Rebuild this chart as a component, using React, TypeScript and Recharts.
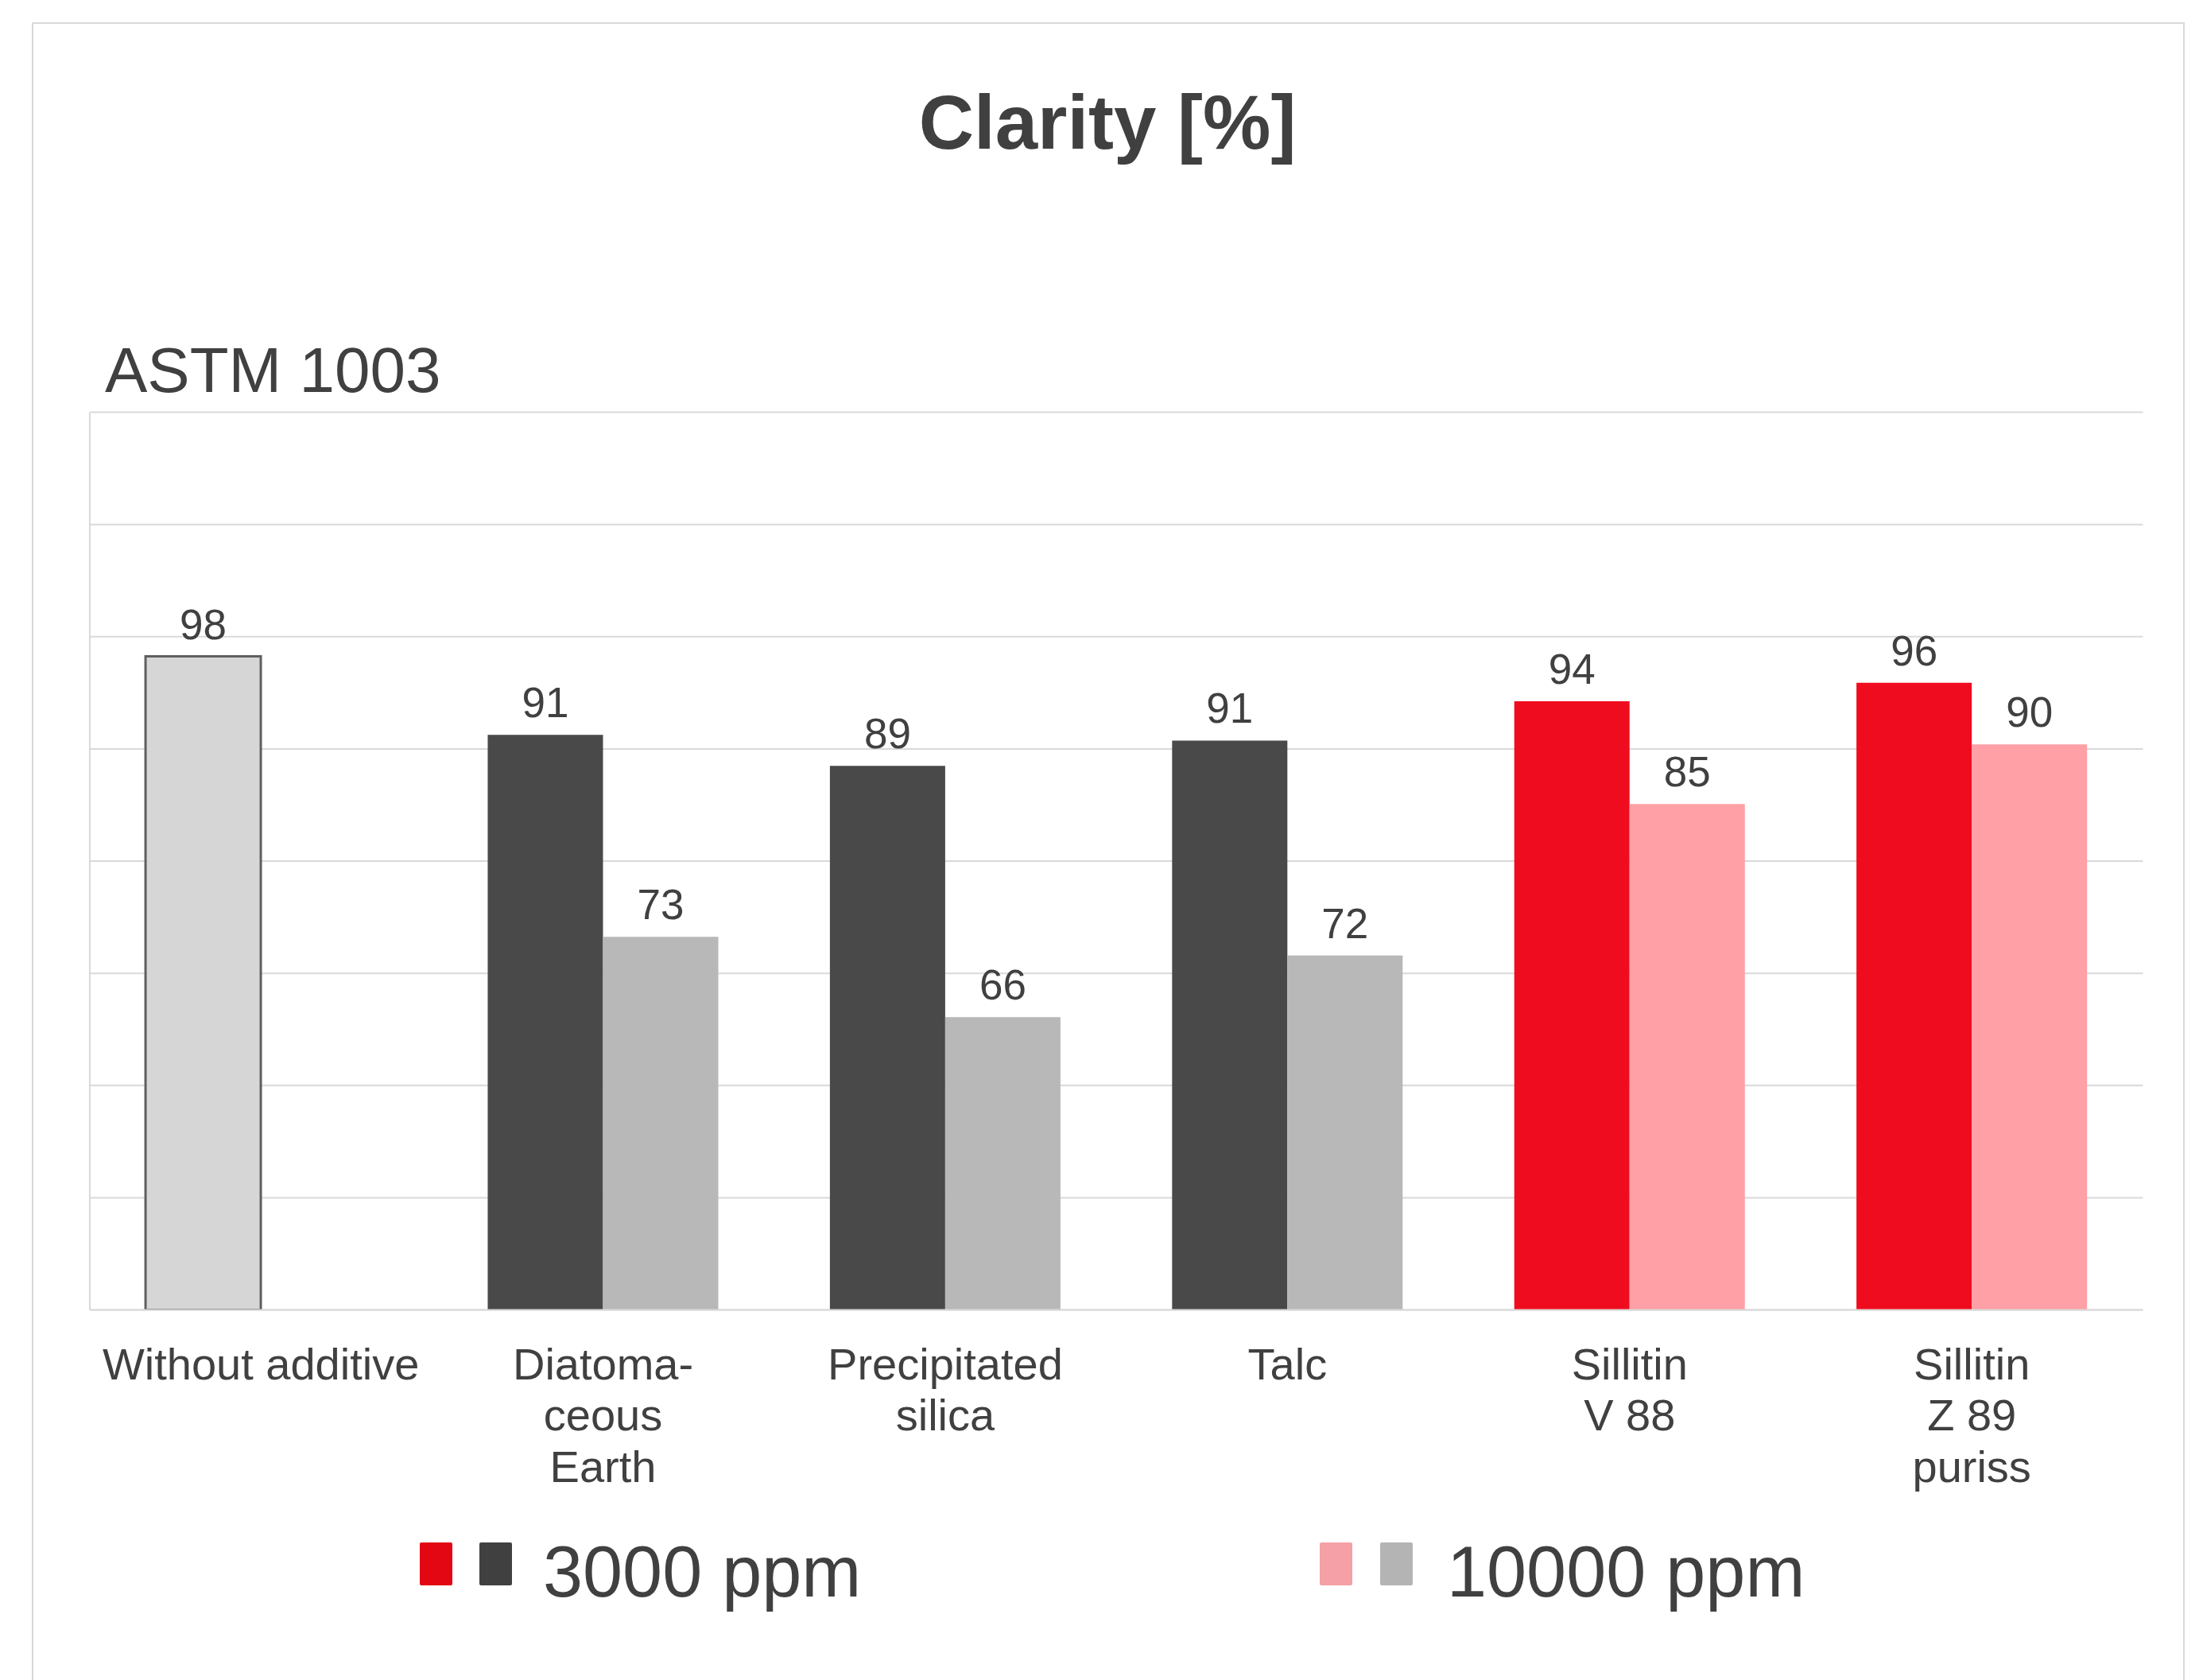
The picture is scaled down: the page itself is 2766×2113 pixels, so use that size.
import { BarChart, Bar, Cell, XAxis, YAxis, CartesianGrid, LabelList, Legend } from 'recharts'

const categories = [
  'Without additive',
  'Diatoma-\nceous\nEarth',
  'Precipitated\nsilica',
  'Talc',
  'Sillitin\nV 88',
  'Sillitin\nZ 89\npuriss',
]
const ppm3000 = [98.25, 91.25, 88.5, 90.75, 94.25, 95.9]
const ppm10000 = [null, 73.25, 66.1, 71.6, 85.1, 90.4]
const colors3000 = ['#d6d6d6', '#494949', '#494949', '#494949', '#ef0c1e', '#ef0c1e']
const colors10000 = ['#b8b8b8', '#b8b8b8', '#b8b8b8', '#b8b8b8', '#ff9fa6', '#ff9fa6']
const yTicks = [40, 50, 60, 70, 80, 90, 100, 110, 120]

const FONT = '"Liberation Sans", Arial, sans-serif'
const TEXT = '#404040'
const GRID = '#d9d9d9'

const data = categories.map((name, i) => ({ name, v3000: ppm3000[i], v10000: ppm10000[i] }))

function CategoryTick({ x, y, payload }: any) {
  const lines = String(payload.value).split('\n')
  return (
    <text x={x} y={y} textAnchor="middle" fill={TEXT} fontSize={56} fontFamily={FONT}>
      {lines.map((line, i) => (
        <tspan key={i} x={x} dy={i === 0 ? 87 : 64.5}>
          {line}
        </tspan>
      ))}
    </text>
  )
}

// y ticks exist only to drive the grid; no labels drawn
function NoTick() {
  return <g />
}

function Swatch({ left, color }: { left: number; color: string }) {
  return <div style={{ position: 'absolute', left, top: 0, width: 41, height: 54, background: color, borderRadius: 2 }} />
}

function LegendContent() {
  const label = { position: 'absolute' as const, top: -8, fontSize: 90, lineHeight: '90px', color: TEXT, fontFamily: FONT, whiteSpace: 'nowrap' as const }
  return (
    <div style={{ position: 'relative', width: 2766, height: 60 }}>
      <Swatch left={528} color="#e30613" />
      <Swatch left={603} color="#404040" />
      <div style={{ ...label, left: 683 }}>3000 ppm</div>
      <Swatch left={1660} color="#f4a0a6" />
      <Swatch left={1736} color="#b4b4b4" />
      <div style={{ ...label, left: 1820 }}>10000 ppm</div>
    </div>
  )
}

export default function App() {
  return (
    <div style={{ position: 'absolute', left: 0, top: 0, width: 2766, height: 2113, overflow: 'hidden', background: '#fff' }}>
      <div style={{ position: 'absolute', left: 40, top: 28, width: 2704, height: 2200, border: `2px solid ${GRID}` }} />
      <div style={{ position: 'absolute', left: 0, top: 0 }}>
        <BarChart
          width={2766}
          height={2113}
          data={data}
          margin={{ top: 518.6, left: 111.9, right: 70.6, bottom: 205.4 }}
          barCategoryGap="16.3%"
          barGap={0}
        >
          <text x={1393} y={187} textAnchor="middle" fill={TEXT} fontSize={96} fontWeight="bold" fontFamily={FONT}>
            Clarity [%]
          </text>
          <text x={132} y={493} fill={TEXT} fontSize={80} fontFamily={FONT}>
            ASTM 1003
          </text>
          <CartesianGrid vertical={false} stroke={GRID} strokeWidth={2} />
          <XAxis
            dataKey="name"
            interval={0}
            height={200}
            tickSize={0}
            tickMargin={0}
            tickLine={false}
            axisLine={{ stroke: GRID, strokeWidth: 2 }}
            tick={<CategoryTick />}
          />
          <YAxis
            type="number"
            domain={[40, 120]}
            ticks={yTicks}
            interval={0}
            allowDataOverflow
            width={1}
            tick={<NoTick />}
            tickLine={false}
            axisLine={{ stroke: GRID, strokeWidth: 2 }}
          />
          <Legend
            verticalAlign="bottom"
            content={<LegendContent />}
            wrapperStyle={{ position: 'absolute', left: 0, top: 1940, width: 2766, height: 60 }}
          />
          <Bar dataKey="v3000" isAnimationActive={false}>
            {colors3000.map((c, i) => (
              <Cell key={i} fill={c} stroke={i === 0 ? '#5f5f5f' : 'none'} strokeWidth={i === 0 ? 3 : 0} />
            ))}
            <LabelList
              dataKey="v3000"
              position="top"
              offset={22}
              formatter={(v: any) => (v == null ? '' : Math.round(v))}
              fill={TEXT}
              fontSize={53}
              fontFamily={FONT}
            />
          </Bar>
          <Bar dataKey="v10000" isAnimationActive={false}>
            {colors10000.map((c, i) => (
              <Cell key={i} fill={c} />
            ))}
            <LabelList
              dataKey="v10000"
              position="top"
              offset={22}
              formatter={(v: any) => (v == null ? '' : Math.round(v))}
              fill={TEXT}
              fontSize={53}
              fontFamily={FONT}
            />
          </Bar>
        </BarChart>
      </div>
    </div>
  )
}
